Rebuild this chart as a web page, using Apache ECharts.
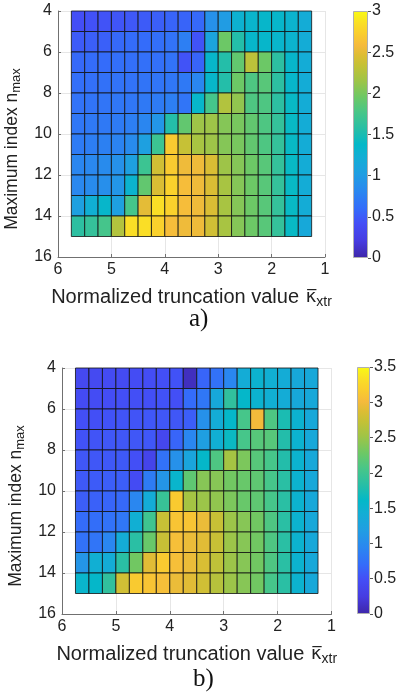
<!DOCTYPE html>
<html><head><meta charset="utf-8">
<script src="https://cdn.jsdelivr.net/npm/echarts@6/dist/echarts.min.js"></script>
<style>html,body{margin:0;padding:0;background:#fff}#c{width:402px;height:697px}</style>
</head><body><div id="c"></div>
<script>
// ---- data ----
const kappaEdges = [5.75,5.5,5.25,5,4.75,4.5,4.25,4,3.75,3.5,3.25,3,2.75,2.5,2.25,2,1.75,1.5,1.25];
const nEdges = [4,5,6,7,8,9,10,11,12,13,14,15];
const xTickRange = [1, 6];
const yTickRange = [4, 16];
const colorMaxA = 3;
const colorMaxB = 3.5;

// panel a) rows n = 4 .. 14, columns kappa 5.75 -> 1.5
const a_n4  = [0.42,0.44,0.45,0.46,0.48,0.5,0.52,0.55,0.55,0.58,0.9,1.0,1.28,1.33,1.35,1.35,1.3,1.2];
const a_n5  = [0.5,0.52,0.53,0.58,0.6,0.6,0.62,0.65,0.75,0.45,1.1,1.95,1.55,1.35,1.35,1.33,1.3,1.2];
const a_n6  = [0.58,0.6,0.6,0.62,0.62,0.63,0.63,0.65,0.45,0.55,1.35,1.55,1.9,2.3,1.95,1.6,1.35,1.2];
const a_n7  = [0.62,0.63,0.64,0.65,0.65,0.66,0.67,0.68,0.7,0.8,1.35,1.55,1.95,1.8,1.85,1.6,1.35,1.2];
const a_n8  = [0.65,0.66,0.67,0.68,0.68,0.7,0.72,0.75,0.67,1.35,1.75,2.25,2.1,1.8,1.8,1.6,1.4,1.2];
const a_n9  = [0.68,0.7,0.7,0.72,0.75,0.8,0.95,1.55,1.9,2.15,2.15,2.05,2.0,1.9,1.8,1.65,1.4,1.2];
const a_n10 = [0.72,0.74,0.76,0.78,0.85,1.05,1.7,2.7,2.35,2.2,2.15,2.05,2.0,1.9,1.8,1.65,1.4,1.2];
const a_n11 = [0.8,0.82,0.85,0.9,1.05,1.7,2.4,2.7,2.55,2.55,2.45,2.15,2.05,1.95,1.85,1.65,1.4,1.2];
const a_n12 = [0.82,0.85,0.88,0.95,1.3,1.9,2.45,2.75,2.6,2.55,2.45,2.2,2.05,1.95,1.85,1.65,1.4,1.2];
const a_n13 = [1.05,1.25,1.35,1.05,1.75,2.5,2.85,2.75,2.6,2.55,2.45,2.2,2.05,1.95,1.85,1.65,1.4,1.2];
const a_n14 = [1.6,1.65,1.75,2.25,2.85,2.85,2.75,2.6,2.55,2.55,2.4,2.2,2.05,1.95,1.85,1.65,1.4,1.15];

// panel b)
const b_n4  = [0.42,0.43,0.45,0.46,0.47,0.48,0.5,0.52,0.1,0.65,0.75,0.95,1.4,1.5,1.45,1.4,1.35,1.35];
const b_n5  = [0.45,0.47,0.48,0.5,0.5,0.5,0.52,0.5,0.7,0.8,1.35,1.9,1.6,1.5,1.45,1.4,1.35,1.35];
const b_n6  = [0.5,0.5,0.52,0.53,0.53,0.55,0.55,0.55,0.6,1.05,1.4,1.6,2.05,3.0,2.1,1.75,1.5,1.35];
const b_n7  = [0.52,0.53,0.55,0.55,0.55,0.55,0.4,0.65,0.95,1.2,1.45,1.65,2.05,2.15,2.15,1.8,1.5,1.35];
const b_n8  = [0.55,0.55,0.56,0.57,0.5,0.35,0.75,1.05,1.3,1.6,2.1,2.55,2.35,2.15,2.05,1.8,1.5,1.35];
const b_n9  = [0.57,0.58,0.6,0.6,0.45,0.85,1.1,1.55,2.2,2.4,2.4,2.3,2.25,2.2,2.05,1.85,1.5,1.35];
const b_n10 = [0.6,0.62,0.65,0.68,0.95,1.4,1.95,3.15,2.55,2.5,2.45,2.35,2.25,2.2,2.05,1.85,1.5,1.35];
const b_n11 = [0.7,0.72,0.75,0.8,1.45,2.0,2.75,3.1,3.1,2.95,2.75,2.5,2.4,2.3,2.1,1.85,1.5,1.35];
const b_n12 = [0.75,0.78,0.95,1.4,1.85,2.25,2.75,3.05,2.95,2.9,2.75,2.5,2.4,2.3,2.1,1.85,1.5,1.35];
const b_n13 = [1.1,1.45,1.4,1.85,2.3,2.9,3.15,3.05,2.95,2.85,2.7,2.5,2.4,2.3,2.1,1.85,1.5,1.35];
const b_n14 = [1.55,1.6,1.9,2.8,3.15,3.1,3.05,2.95,2.9,2.8,2.65,2.5,2.4,2.3,2.05,1.85,1.5,1.35];

const rowsA = [a_n4,a_n5,a_n6,a_n7,a_n8,a_n9,a_n10,a_n11,a_n12,a_n13,a_n14];
const rowsB = [b_n4,b_n5,b_n6,b_n7,b_n8,b_n9,b_n10,b_n11,b_n12,b_n13,b_n14];

// ---- colormap (parula-like) ----
const parulaStops = [
  [0.00,[62,38,168]],[0.07,[70,60,225]],[0.14,[68,78,246]],[0.20,[52,108,250]],
  [0.27,[42,135,240]],[0.34,[32,158,226]],[0.41,[18,174,212]],[0.46,[4,184,200]],
  [0.52,[38,190,167]],[0.59,[72,198,136]],[0.65,[108,200,102]],[0.72,[160,196,70]],
  [0.78,[196,193,54]],[0.82,[220,189,52]],[0.86,[245,186,60]],[0.91,[250,206,45]],
  [0.95,[250,222,38]],[1.00,[249,250,20]]
];
function rgb(c){return 'rgb('+c.map(Math.round).join(',')+')';}
function sampleMap(t){
  for(let i=1;i<parulaStops.length;i++){
    const [t1,c1]=parulaStops[i-1],[t2,c2]=parulaStops[i];
    if(t<=t2){const f=(t-t1)/(t2-t1);return rgb(c1.map((v,k)=>v+(c2[k]-v)*f));}
  }
  return rgb(parulaStops[parulaStops.length-1][1]);
}
const NC=101;
const mapColors=[];for(let i=0;i<NC;i++)mapColors.push(sampleMap(i/(NC-1)));
const gradStops=parulaStops.map(s=>({offset:1-s[0],color:rgb(s[1])}));

function cells(rows){
  const out=[];
  rows.forEach((row,j)=>row.forEach((v,i)=>out.push([kappaEdges[i],nEdges[j],v,kappaEdges[i+1],nEdges[j+1]])));
  return out;
}
function renderCell(params,api){
  const p1=api.coord([api.value(0),api.value(1)]);
  const p2=api.coord([api.value(3),api.value(4)]);
  return {type:'rect',shape:{x:Math.min(p1[0],p2[0]),y:Math.min(p1[1],p2[1]),width:Math.abs(p2[0]-p1[0]),height:Math.abs(p2[1]-p1[1])},
    style:{fill:api.visual('color'),stroke:'rgba(18,18,18,0.8)',lineWidth:1}};
}

const FF='Liberation Sans, Arial, sans-serif';
const axisGray='#707070';
function xAxisCfg(g){
  return {type:'value',gridIndex:g,min:xTickRange[0],max:xTickRange[1],interval:1,inverse:true,
    axisLine:{show:true,onZero:false,lineStyle:{color:axisGray}},
    axisTick:{show:true,inside:true,length:3,lineStyle:{color:axisGray}},
    axisLabel:{color:'#222',fontSize:16,fontFamily:FF,margin:5},
    splitLine:{show:true,lineStyle:{color:'#e6e6e6'}},
    name:'{t|Normalized truncation value}  {k|\u03ba\u0305}{s|xtr}',nameLocation:'middle',nameGap:28,
    nameTextStyle:{color:'#222',rich:{t:{fontSize:20,fontFamily:FF,color:'#222'},k:{fontSize:18,fontFamily:'DejaVu Sans',color:'#222'},s:{fontSize:14,fontFamily:FF,color:'#222',padding:[10,0,0,0]}}}};
}
function yAxisCfg(g){
  return {type:'value',gridIndex:g,min:yTickRange[0],max:yTickRange[1],interval:2,inverse:true,
    axisLine:{show:true,onZero:false,lineStyle:{color:axisGray}},
    axisTick:{show:true,inside:true,length:3,lineStyle:{color:axisGray}},
    axisLabel:{color:'#222',fontSize:16,fontFamily:FF,margin:6},
    splitLine:{show:true,lineStyle:{color:'#e6e6e6'}},
    name:'{t|Maximum index n}{s|max}',nameLocation:'middle',nameGap:34,
    nameTextStyle:{color:'#222',padding:[0,30,0,0],rich:{t:{fontSize:17.5,fontFamily:FF,color:'#222'},s:{fontSize:13,fontFamily:FF,color:'#222',padding:[9,0,0,0]}}}};
}
function cbX(g){return {type:'category',gridIndex:g,data:[''],show:false};}
function cbY(g,mx){
  return {type:'value',gridIndex:g,min:0,max:mx,interval:0.5,position:'right',
    axisLine:{show:false},axisTick:{show:true,length:3,lineStyle:{color:'#555'}},
    splitLine:{show:false},axisLabel:{color:'#222',fontSize:16,fontFamily:FF,margin:4}};
}

const chart=echarts.init(document.getElementById('c'),null,{renderer:'canvas'});
chart.setOption({
  animation:false,
  backgroundColor:'#fff',
  grid:[
    {left:58,top:11,width:267,height:246,outerBoundsMode:'none',containLabel:false},
    {left:62,top:368,width:269.5,height:246,outerBoundsMode:'none',containLabel:false},
    {left:353,top:11,width:15,height:247,outerBoundsMode:'none',containLabel:false},
    {left:357,top:367,width:13,height:247,outerBoundsMode:'none',containLabel:false}
  ],
  xAxis:[xAxisCfg(0),xAxisCfg(1),cbX(2),cbX(3)],
  yAxis:[yAxisCfg(0),yAxisCfg(1),cbY(2,colorMaxA),cbY(3,colorMaxB)],
  visualMap:[
    {show:false,type:'continuous',seriesIndex:0,dimension:2,min:0,max:colorMaxA,inRange:{color:mapColors}},
    {show:false,type:'continuous',seriesIndex:1,dimension:2,min:0,max:colorMaxB,inRange:{color:mapColors}}
  ],
  title:[
    {text:'a)',left:184,top:302,textStyle:{fontFamily:'Liberation Serif',fontSize:25,fontWeight:'normal',color:'#111'}},
    {text:'b)',left:188,top:662,textStyle:{fontFamily:'Liberation Serif',fontSize:25,fontWeight:'normal',color:'#111'}}
  ],
  series:[
    {type:'custom',xAxisIndex:0,yAxisIndex:0,data:cells(rowsA),renderItem:renderCell,encode:{x:[0,3],y:[1,4]}},
    {type:'custom',xAxisIndex:1,yAxisIndex:1,data:cells(rowsB),renderItem:renderCell,encode:{x:[0,3],y:[1,4]}},
    {type:'bar',xAxisIndex:2,yAxisIndex:2,data:[colorMaxA],barWidth:'100%',
      itemStyle:{color:new echarts.graphic.LinearGradient(0,0,0,1,gradStops),borderColor:'#b0b0b0',borderWidth:1}},
    {type:'bar',xAxisIndex:3,yAxisIndex:3,data:[colorMaxB],barWidth:'100%',
      itemStyle:{color:new echarts.graphic.LinearGradient(0,0,0,1,gradStops),borderColor:'#b0b0b0',borderWidth:1}}
  ]
});
</script></body></html>
